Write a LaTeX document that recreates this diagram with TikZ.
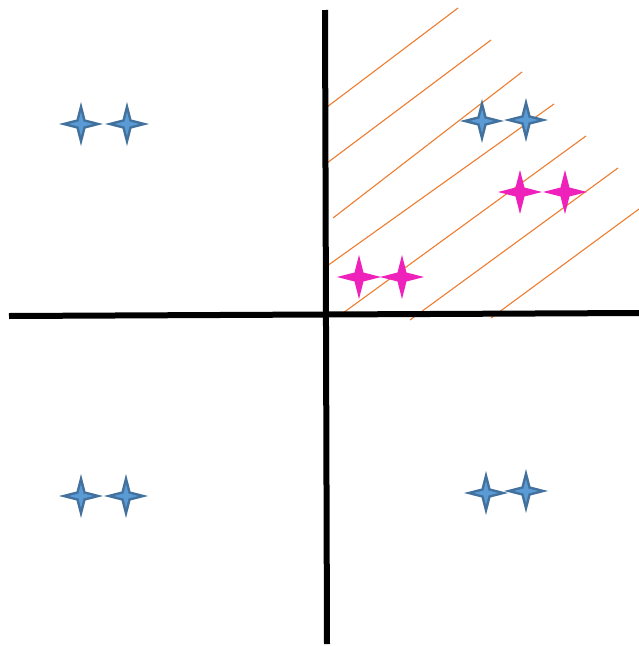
\documentclass[tikz,border=0pt]{standalone}
\begin{document}
\begin{tikzpicture}[x=1pt,y=-1pt,
  axis/.style={line width=6pt,black},
  hatch/.style={line width=1.1pt,color=hatchorange}
]
\definecolor{hatchorange}{HTML}{ED7D31}
\definecolor{stardark}{HTML}{41719C}
\definecolor{starlight}{HTML}{5B9BD5}
\definecolor{starpink}{HTML}{EE22BB}
\def\starp{(22,0) -- (4.5,4.5) -- (0,22) -- (-4.5,4.5) -- (-22,0) -- (-4.5,-4.5) -- (0,-22) -- (4.5,-4.5) -- cycle}
\tikzset{
  bstar/.pic={\fill[stardark] \starp; \fill[starlight,scale=0.55] \starp;},
  pstar/.pic={\fill[starpink] \starp;}
}
\useasboundingbox (0,0) rectangle (639,646);
% hatching
\draw[hatch] (327,107) -- (458,8);
\draw[hatch] (327,163) -- (491,40);
\draw[hatch] (333,218) -- (522,72);
\draw[hatch] (327,266) -- (554,104);
\draw[hatch] (343,313) -- (586,136);
\draw[hatch] (410,320) -- (618,168);
\draw[hatch] (491,318) -- (639,209);
% axes
\coordinate (vt) at (325,10);
\coordinate (vb) at (327,644);
\coordinate (hl) at (9,316);
\coordinate (hr) at (639,313);
\draw[axis] (vt) -- (vb);
\draw[axis] (hl) -- (hr);
% stars
\pic at (81,124) {bstar};
\pic at (127,124) {bstar};
\pic at (482,121) {bstar};
\pic at (526,120) {bstar};
\pic at (81,496) {bstar};
\pic at (126,496) {bstar};
\pic at (486,493) {bstar};
\pic at (526,491) {bstar};
\pic at (520,192) {pstar};
\pic at (565,192) {pstar};
\pic at (359,277) {pstar};
\pic at (402,277) {pstar};
\end{tikzpicture}
\end{document}
